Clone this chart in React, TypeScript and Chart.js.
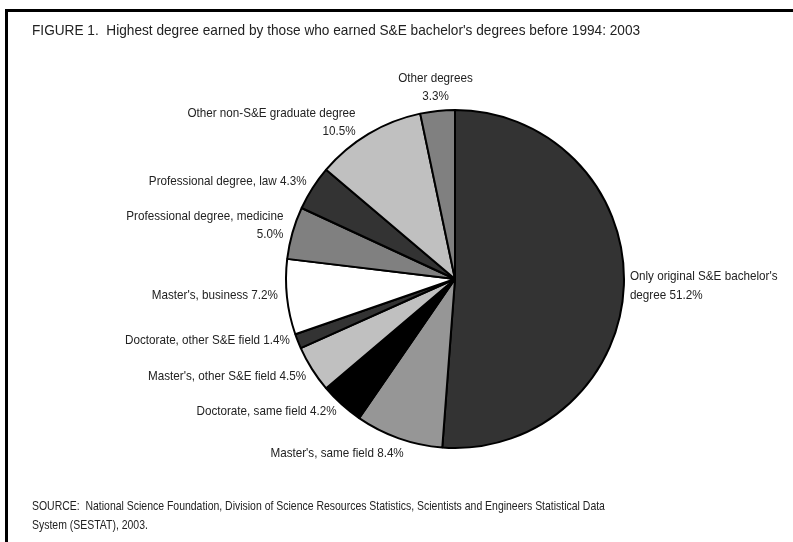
import React, { useEffect, useRef } from "react";
import { Chart, registerables } from "chart.js";

Chart.register(...registerables);

const categories: string[] = [
  "Only original S&E bachelor's degree",
  "Master's, same field",
  "Doctorate, same field",
  "Master's, other S&E field",
  "Doctorate, other S&E field",
  "Master's, business",
  "Professional degree, medicine",
  "Professional degree, law",
  "Other non-S&E graduate degree",
  "Other degrees",
];

const percentValues: number[] = [51.2, 8.4, 4.2, 4.5, 1.4, 7.2, 5.0, 4.3, 10.5, 3.3];

const labelLines: string[][] = [
  ["Only original S&E bachelor's", "degree 51.2%"],
  ["Master's, same field 8.4%"],
  ["Doctorate, same field 4.2%"],
  ["Master's, other S&E field 4.5%"],
  ["Doctorate, other S&E field 1.4%"],
  ["Master's, business 7.2%"],
  ["Professional degree, medicine", "5.0%"],
  ["Professional degree, law 4.3%"],
  ["Other non-S&E graduate degree", "10.5%"],
  ["Other degrees", "3.3%"],
];

const sliceColors: string[] = [
  "#333333",
  "#969696",
  "#000000",
  "#c0c0c0",
  "#333333",
  "#ffffff",
  "#808080",
  "#333333",
  "#c0c0c0",
  "#808080",
];

// label placement relative to the slice's outer mid-point: [align, dx, dy of first line]
const labelPlacement: [CanvasTextAlign, number, number][] = [
  ["left", 6, -9],
  ["right", 5, 15],
  ["right", -5, 7],
  ["right", -6, 7],
  ["right", -8, -1],
  ["right", -9, -2],
  ["right", -9, -17],
  ["right", -6, -7],
  ["right", -13, -21],
  ["center", -2, -33],
];

const FONT = '"Liberation Sans", Arial, "DejaVu Sans", sans-serif';
const TEXT_COLOR = "#222222";

const labelPlugin = {
  id: "sliceLabels",
  afterDatasetsDraw(chart: any) {
    const meta = chart.getDatasetMeta(0);
    const ctx = chart.ctx;
    ctx.save();
    ctx.font = `13.5px ${FONT}`;
    ctx.fillStyle = TEXT_COLOR;
    ctx.textBaseline = "middle";
    meta.data.forEach((arc: any, i: number) => {
      const { x, y, startAngle, endAngle, outerRadius } = arc.getProps(
        ["x", "y", "startAngle", "endAngle", "outerRadius"],
        true
      );
      const mid = (startAngle + endAngle) / 2;
      const px = x + Math.cos(mid) * outerRadius;
      const py = y + Math.sin(mid) * outerRadius;
      const [align, dx, dy] = labelPlacement[i];
      ctx.textAlign = align;
      labelLines[i].forEach((line, k) => {
        ctx.save();
        ctx.translate(px + dx, py + dy + k * 18.5);
        ctx.scale(0.865, 1);
        ctx.fillText(line, 0, 0);
        ctx.restore();
      });
    });
    ctx.restore();
  },
};

export default function App() {
  const canvasRef = useRef<HTMLCanvasElement | null>(null);

  useEffect(() => {
    document.body.style.margin = "0";
    const canvas = canvasRef.current;
    if (!canvas) return;
    const chart = new Chart(canvas, {
      type: "pie",
      data: {
        labels: categories,
        datasets: [
          {
            data: percentValues,
            backgroundColor: sliceColors,
            borderColor: "#000000",
            borderWidth: 2,
            hoverOffset: 0,
          },
        ],
      },
      options: {
        animation: false,
        responsive: false,
        radius: 169,
        layout: { padding: { left: 200, right: 83, top: 60, bottom: 44 } },
        plugins: {
          legend: { display: false },
          tooltip: { enabled: false },
        },
        events: [],
      } as any,
      plugins: [labelPlugin],
    });
    return () => chart.destroy();
  }, []);

  return (
    <div
      style={{
        position: "relative",
        width: 793,
        height: 542,
        overflow: "hidden",
        background: "#ffffff",
        fontFamily: FONT,
      }}
    >
      <div
        style={{
          position: "absolute",
          left: 5,
          top: 9,
          width: 800,
          height: 600,
          borderLeft: "3px solid #000",
          borderTop: "3px solid #000",
          boxSizing: "border-box",
        }}
      />
      <canvas
        ref={canvasRef}
        width={793}
        height={542}
        style={{ position: "absolute", left: 0, top: 0 }}
      />
      <div
        style={{
          position: "absolute",
          left: 32,
          top: 21,
          fontSize: 15,
          lineHeight: "18px",
          color: TEXT_COLOR,
          whiteSpace: "pre",
          transform: "scaleX(0.91)",
          transformOrigin: "left top",
        }}
      >
        {"FIGURE 1.  Highest degree earned by those who earned S&E bachelor's degrees before 1994: 2003"}
      </div>
      <div
        style={{
          position: "absolute",
          left: 32,
          top: 496,
          fontSize: 13,
          lineHeight: "19px",
          color: TEXT_COLOR,
          whiteSpace: "pre",
          transform: "scaleX(0.805)",
          transformOrigin: "left top",
        }}
      >
        {"SOURCE:  National Science Foundation, Division of Science Resources Statistics, Scientists and Engineers Statistical Data\nSystem (SESTAT), 2003."}
      </div>
    </div>
  );
}
